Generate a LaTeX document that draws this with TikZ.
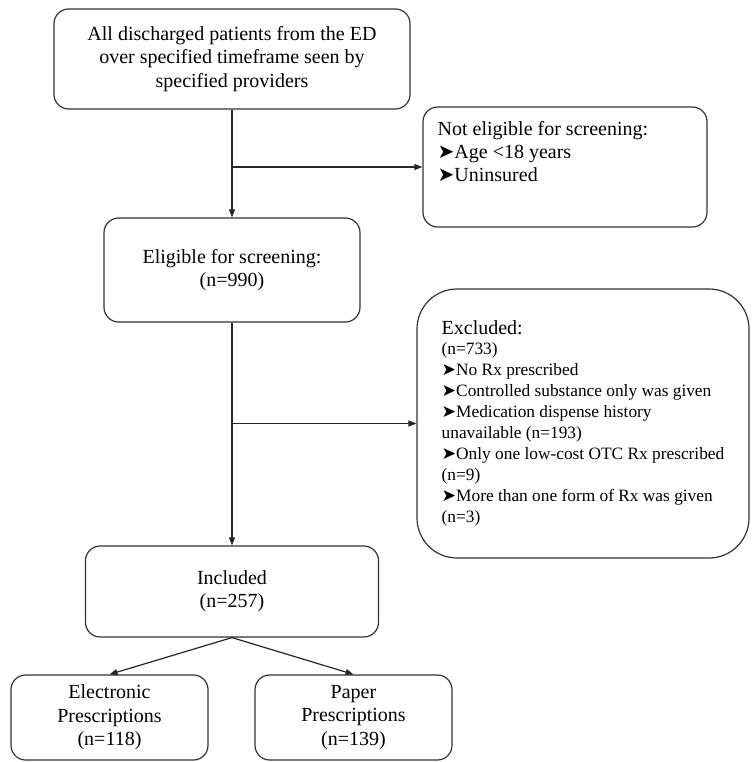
\documentclass[tikz,border=0pt]{standalone}
\usepackage{fontspec}
\setmainfont{Liberation Serif}
\newfontfamily\dingfont{DejaVu Sans}
\usetikzlibrary{arrows.meta}
\newcommand{\bul}{{\dingfont\char"27A4}}

\begin{document}
\begin{tikzpicture}[
    x=0.75pt, y=-0.75pt,
    box/.style={draw=black!80, line width=0.9pt, rounded corners=11pt, inner sep=0pt, font=\fontsize{15}{17.5}\selectfont},
    small/.style={font=\fontsize{13}{15.75}\selectfont},
    link/.style={-{Triangle[length=6pt, width=4.5pt]}, line width=0.9pt, black!85},
]
\useasboundingbox (0,0) rectangle (751,762);
% main column
\node[box, align=center, minimum width=267pt, minimum height=75pt] (all) at (232,59)
  {All discharged patients from the ED\\over specified timeframe seen by\\specified providers};
\node[box, align=center, minimum width=192pt, minimum height=78pt] (elig) at (232,270)
  {Eligible for screening:\\(n=990)};
\node[box, align=center, minimum width=219.75pt, minimum height=68.25pt] (incl) at (232,591.5)
  {Included\\(n=257)};
\node[box, align=center, minimum width=147.75pt, minimum height=63.75pt] (elec) at (109.5,717.5)
  {Electronic\\Prescriptions\\(n=118)};
\node[box, align=center, minimum width=147.75pt, minimum height=63.75pt] (paper) at (353.5,717.5)
  {Paper\\Prescriptions\\(n=139)};
% side boxes
\node[box, minimum width=213pt, minimum height=90pt] (notel) at (565,167)
  {\parbox[c][69pt][t]{191pt}{\raggedright Not eligible for screening:\\\bul Age <18 years\\\bul Uninsured}};
\node[box, small, align=left, rounded corners=30pt, minimum width=249pt, minimum height=201.75pt] (excl) at (583,423.5)
  {{\fontsize{15}{17.5}\selectfont Excluded:}\\[-1pt]
   (n=733)\\
   \bul No Rx prescribed\\
   \bul Controlled substance only was given\\
   \bul Medication dispense history\\
   unavailable (n=193)\\
   \bul Only one low-cost OTC Rx prescribed\\
   (n=9)\\
   \bul More than one form of Rx was given\\
   (n=3)};
% connectors
\coordinate (j1) at (all.south |- notel.west);
\coordinate (j2) at (elig.south |- excl.west);
\draw[link] (all.south) -- (elig.north);
\draw[link] (j1) -- (notel.west);
\draw[link] (elig.south) -- (incl.north);
\draw[link] (j2) -- (excl.west);
\draw[link] (incl.south) -- (elec.north);
\draw[link] (incl.south) -- (paper.north);
\end{tikzpicture}
\end{document}
